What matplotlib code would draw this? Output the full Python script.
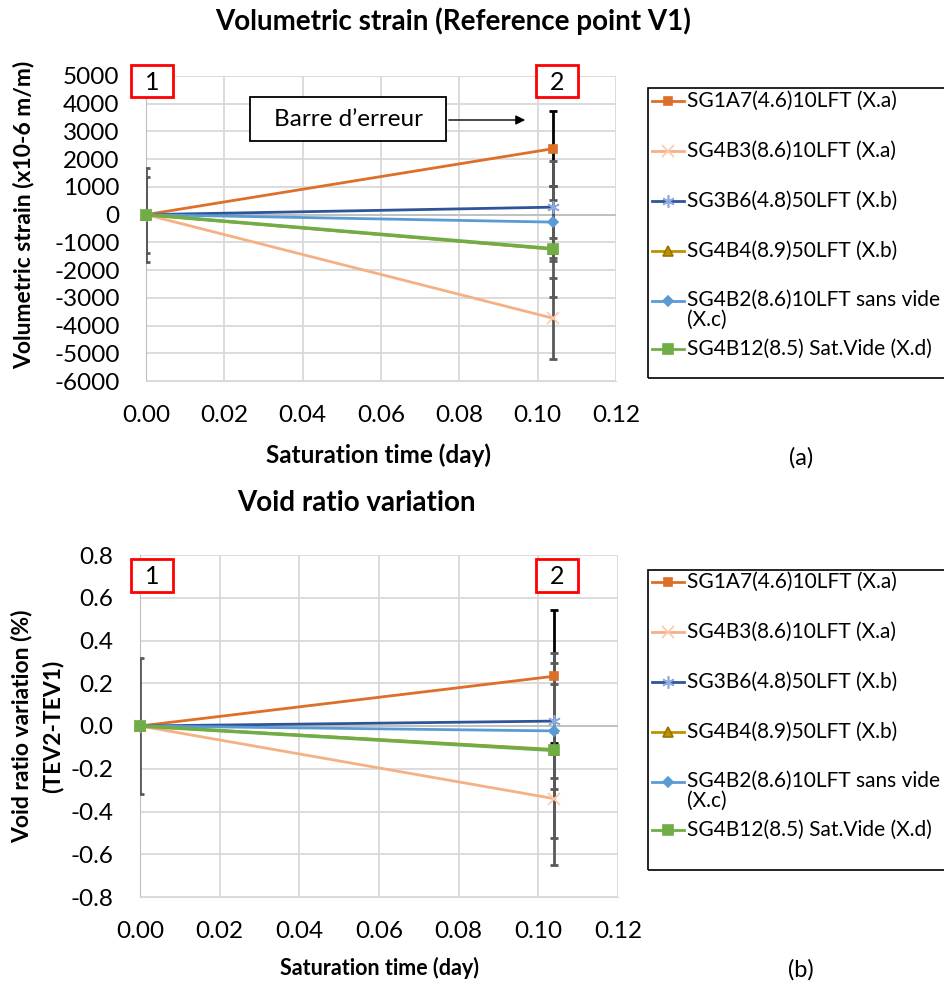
import matplotlib
matplotlib.use("Agg")
import matplotlib.pyplot as plt
from matplotlib.lines import Line2D
from matplotlib.patches import Rectangle, FancyArrowPatch
from matplotlib.ticker import FuncFormatter

plt.rcParams['font.family'] = ['Lato', 'DejaVu Sans']

# ---------------- data ----------------
time_day = [0.0, 0.104]
series_names = [
    "SG1A7(4.6)10LFT (X.a)",
    "SG4B3(8.6)10LFT (X.a)",
    "SG3B6(4.8)50LFT (X.b)",
    "SG4B4(8.9)50LFT (X.b)",
    "SG4B2(8.6)10LFT sans vide\n(X.c)",
    "SG4B12(8.5) Sat.Vide (X.d)",
]
vol_strain = [
    [0, 2380],
    [0, -3740],
    [0, 270],
    [0, -1250],
    [0, -270],
    [0, -1230],
]
vol_err = [
    [0, 1360],
    [1700, 1450],
    [1370, 1670],
    [0, 420],
    [0, 1300],
    [0, 1750],
]
void_var = [
    [0, 0.233],
    [0, -0.34],
    [0, 0.023],
    [0, -0.11],
    [0, -0.023],
    [0, -0.114],
]
void_err = [
    [0, 0.312],
    [0.316, 0.31],
    [0, 0.32],
    [0, 0.02],
    [0, 0.22],
    [0, 0.41],
]
vol_ticks = list(range(-6000, 5001, 1000))
void_ticks = [-0.8, -0.6, -0.4, -0.2, 0.0, 0.2, 0.4, 0.6, 0.8]
x_ticks = [0.0, 0.02, 0.04, 0.06, 0.08, 0.10, 0.12]

# ---------------- styles ----------------
colors = ['#DC6F2A', '#F4B183', '#2F5597', '#BF9000', '#5B9BD5', '#70AD47']
mec = ['#DC6F2A', '#F8CBAD', '#8FAADC', '#997300', '#5B9BD5', '#70AD47']
markers = ['s', 'x', (6, 2, 0), '^', 'D', 's']
msizes = [6, 8, 9, 7, 5, 7]
lwidths = [2.0, 2.0, 2.0, 2.0, 2.0, 2.5]
err_colors = ['#000000', '#595959', '#595959', '#595959', '#595959', '#595959']

W, H = 944, 994
fig = plt.figure(figsize=(W / 100, H / 100), dpi=100)


def fx(px):
    return px / W


def fy(py):
    return 1 - py / H


def make_axes(l, t, r, b):
    return fig.add_axes([fx(l), fy(b), fx(r) - fx(l), fy(t) - fy(b)])


def style_axes(ax, yticks, yfmt, ylim, xpad, ypad):
    ax.set_xlim(0, 0.12)
    ax.set_ylim(*ylim)
    ax.set_xticks(x_ticks)
    ax.set_yticks(yticks)
    ax.xaxis.set_major_formatter(FuncFormatter(lambda v, p: f"{v:.2f}"))
    ax.yaxis.set_major_formatter(FuncFormatter(yfmt))
    ax.grid(True, color='#D9D9D9', lw=1.3)
    ax.set_axisbelow(True)
    for s in ['top', 'right']:
        ax.spines[s].set_visible(False)
    ax.spines['left'].set_color('#BFBFBF')
    ax.spines['bottom'].set_color('#D9D9D9')
    ax.axhline(0, color='#BFBFBF', lw=1.3, zorder=1)
    ax.tick_params(length=0, labelsize=17.5, colors='#000000')
    ax.tick_params(axis='x', pad=xpad)
    ax.tick_params(axis='y', pad=ypad)


def plot_series(ax, values, errs):
    for i in range(len(series_names)):
        ax.errorbar(time_day, values[i], yerr=errs[i], fmt='none',
                    ecolor=err_colors[i], elinewidth=2, capsize=3, capthick=2,
                    zorder=3 + i)
        ax.plot(time_day, values[i], color=colors[i], lw=lwidths[i],
                marker=markers[i], ms=msizes[i], mfc=colors[i], mec=mec[i],
                mew=1.2, zorder=10 + i, clip_on=False)


def red_box(l, t, r, b, label):
    fig.add_artist(Rectangle((fx(l), fy(b)), fx(r) - fx(l), fy(t) - fy(b),
                             transform=fig.transFigure, fill=True, fc='white',
                             ec='#FF0000', lw=2, zorder=20))
    fig.text(fx((l + r) / 2), fy((t + b) / 2 + 1), label, ha='center', va='center',
             fontsize=18, zorder=21)


def legend_box(l, t, r, b, rows):
    fig.add_artist(Rectangle((fx(l), fy(b)), fx(r) - fx(l), fy(t) - fy(b),
                             transform=fig.transFigure, fill=False,
                             ec='#000000', lw=1.2))
    for i, yrow in enumerate(rows):
        fig.add_artist(Line2D([fx(652), fx(684)], [fy(yrow), fy(yrow)],
                              transform=fig.transFigure, color=colors[i], lw=2))
        fig.add_artist(Line2D([fx(668)], [fy(yrow)], transform=fig.transFigure,
                              marker=markers[i], ms=msizes[i], color=colors[i],
                              mfc=colors[i], mec=mec[i], mew=1.2))
        if '\n' in series_names[i]:
            fig.text(fx(687), fy(yrow - 11), series_names[i], ha='left', va='top',
                     fontsize=15, linespacing=1.0)
        else:
            fig.text(fx(687), fy(yrow), series_names[i], ha='left', va='center',
                     fontsize=15)


# ---------------- top chart ----------------
ax1 = make_axes(146, 76, 616, 381)
style_axes(ax1, vol_ticks, lambda v, p: f"{int(v)}", (-6000, 5000), 17, 19)
plot_series(ax1, vol_strain, vol_err)
fig.text(fx(453), fy(21), "Volumetric strain (Reference point V1)", ha='center',
         va='center', fontsize=20, fontweight='bold')
fig.text(fx(378), fy(455), "Saturation time (day)", ha='center', va='center',
         fontsize=17.5, fontweight='bold')
fig.text(fx(24), fy(215), "Volumetric strain (x10-6 m/m)", ha='center', va='center',
         rotation=90, fontsize=16.5, fontweight='bold')
fig.text(fx(801), fy(458), "(a)", ha='center', va='center', fontsize=17)
red_box(131, 65, 173, 97, "1")
red_box(536, 65, 578, 97, "2")
fig.add_artist(Rectangle((fx(250), fy(141)), fx(446) - fx(250), fy(97) - fy(141),
                         transform=fig.transFigure, fc='white', ec='#000000', lw=1.3,
                         zorder=20))
fig.text(fx(349), fy(120), "Barre d\u2019erreur", ha='center', va='center',
         fontsize=17.5, zorder=21)
fig.add_artist(FancyArrowPatch(
    (fx(446), fy(120)), (fx(528), fy(120)), transform=fig.transFigure,
    arrowstyle='-|>', mutation_scale=14, color='#000000', lw=1, zorder=21))
legend_box(648, 88, 950, 378, [101, 151, 201, 251, 301, 349])

# ---------------- bottom chart ----------------
ax2 = make_axes(140, 555, 618, 897)
style_axes(ax2, void_ticks, lambda v, p: f"{v:.1f}", (-0.8, 0.8), 17, 19)
plot_series(ax2, void_var, void_err)
fig.text(fx(356), fy(503), "Void ratio variation", ha='center', va='center',
         fontsize=20, fontweight='bold')
fig.text(fx(380), fy(968), "Saturation time (day)", ha='center', va='center',
         fontsize=15.5, fontweight='bold')
fig.text(fx(22), fy(726), "Void ratio variation (%)", ha='center', va='center',
         rotation=90, fontsize=16.5, fontweight='bold')
fig.text(fx(53), fy(726), "(TEV2-TEV1)", ha='center', va='center',
         rotation=90, fontsize=16.5, fontweight='bold')
fig.text(fx(801), fy(970), "(b)", ha='center', va='center', fontsize=17)
red_box(131, 559, 173, 592, "1")
red_box(536, 559, 578, 592, "2")
legend_box(648, 570, 950, 870, [582, 632, 682, 732, 782, 830])

fig.savefig("out.png", dpi=100)
